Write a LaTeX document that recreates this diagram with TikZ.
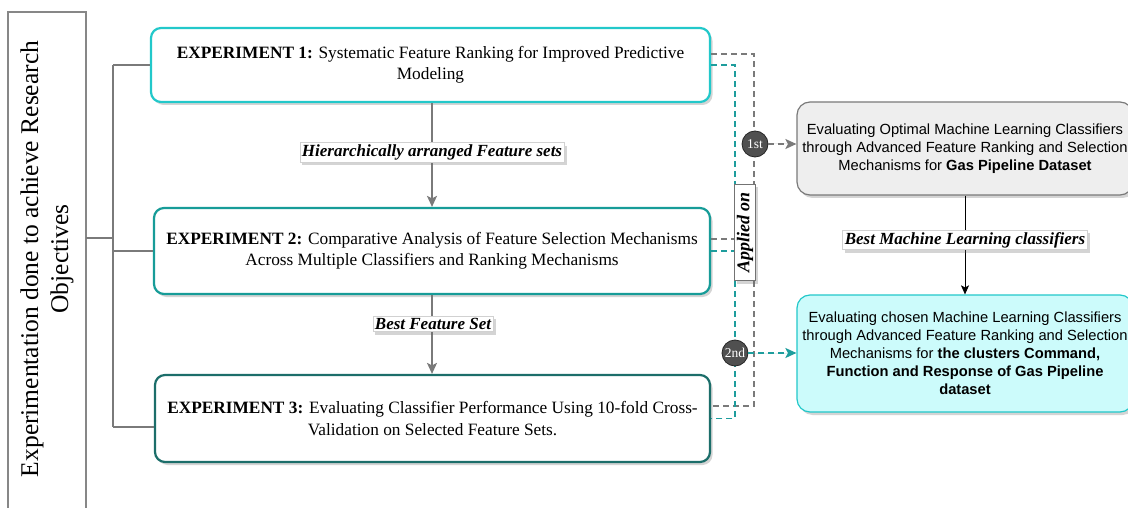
\documentclass[tikz,border=0pt]{standalone}
\usepackage{fontspec}
\setmainfont{Liberation Serif}
\newfontfamily\arialf{Liberation Sans}
\usetikzlibrary{shadows,arrows.meta,calc}
\definecolor{cyanA}{HTML}{22C8CA}
\definecolor{tealB}{HTML}{179C98}
\definecolor{tealC}{HTML}{1C6E6A}
\definecolor{dashTeal}{HTML}{1E9D9D}
\definecolor{lineGray}{HTML}{7A7A7A}
\definecolor{boxGray}{HTML}{EEEEEE}
\definecolor{boxCyan}{HTML}{CCFBFB}
\definecolor{circleFill}{HTML}{505050}
\tikzset{
  softshadow/.style={drop shadow={shadow xshift=2.5pt, shadow yshift=-3pt, opacity=0.28, fill=black!60}},
  expbox/.style={draw, line width=2.2pt, rounded corners=10pt, fill=white, softshadow,
    align=center, font=\fontsize{17.3}{21.5}\selectfont, inner sep=0pt},
  rbox/.style={rounded corners=13pt, line width=1.2pt, align=center,
    font=\arialf\fontsize{14.7}{18}\selectfont, inner sep=0pt, softshadow},
  lbl/.style={draw=black!18, line width=0.8pt, fill=white, text=black,
    font=\bfseries\itshape\fontsize{17}{19}\selectfont, inner sep=2pt, softshadow},
  ord/.style={circle, draw=black!85, line width=0.8pt, fill=circleFill, text=white,
    minimum size=26pt, inner sep=0pt, font=\fontsize{13.5}{13.5}\selectfont},
  gdash/.style={draw=lineGray, line width=1.5pt, dash pattern=on 6pt off 4pt},
  tdash/.style={draw=dashTeal, line width=1.5pt, dash pattern=on 6pt off 4pt},
  bracket/.style={draw=lineGray, line width=1.5pt},
  garrow/.style={draw=lineGray, line width=1.5pt, -{Stealth[length=11pt, width=10pt, inset=2.5pt]}},
}
\begin{document}
\begin{tikzpicture}[x=1pt, y=-1pt]
\useasboundingbox[fill=white] (0,0) rectangle (1128,508);

% goal box
\draw[draw=lineGray!90, line width=1.5pt, fill=white] (8,12) rectangle (86,530);
\node[rotate=90, align=center, font=\fontsize{25.5}{30}\selectfont] (goal) at (47,259)
  {Experimentation done to achieve Research\\Objectives};
\coordinate (goalR) at (86,238);

% experiment boxes
\node[expbox, draw=cyanA, minimum width=559pt, minimum height=74pt] (exp1) at (430.5,65)
  {\textbf{EXPERIMENT 1:} Systematic Feature Ranking for Improved Predictive\\Modeling};
\node[expbox, draw=tealB, minimum width=556pt, minimum height=86pt] (exp2) at (432,251)
  {\textbf{EXPERIMENT 2:} Comparative Analysis of Feature Selection Mechanisms\\Across Multiple Classifiers and Ranking Mechanisms};
\node[expbox, draw=tealC, minimum width=555pt, minimum height=87pt] (exp3) at (432.5,418.5)
  {\textbf{EXPERIMENT 3:} Evaluating Classifier Performance Using 10-fold Cross-\\Validation on Selected Feature Sets.};

% bracket
\coordinate (bmid) at (113,238);
\coordinate (btop) at (113,65);
\coordinate (bbot) at (113,427);
\draw[bracket] (goalR) -- (bmid);
\draw[bracket] (btop) -- (bbot);
\draw[bracket] (btop) -- (exp1.west);
\draw[bracket] (exp2.west -| bmid) -- (exp2.west);
\draw[bracket] (bbot) -- (bbot -| exp3.west);

% vertical arrows between experiments
\draw[garrow] (exp2.north |- exp1.south) -- (exp2.north);
\node[lbl] (l1) at (432,152.5) {Hierarchically arranged Feature sets};
\draw[garrow] (exp2.south) -- (exp2.south |- exp3.north);
\node[lbl] (l2) at (433,324) {Best Feature Set};

% right boxes
\node[rbox, draw=lineGray, fill=boxGray, minimum width=336pt, minimum height=93pt] (rb1) at (965,148.5)
  {Evaluating Optimal Machine Learning Classifiers\\through Advanced Feature Ranking and Selection\\Mechanisms for \textbf{Gas Pipeline Dataset}};
\node[rbox, draw=cyanA, fill=boxCyan, minimum width=336pt, minimum height=117pt] (rb2) at (965,353.5)
  {Evaluating chosen Machine Learning Classifiers\\through Advanced Feature Ranking and Selection\\Mechanisms for \textbf{the clusters Command,}\\\textbf{Function and Response of Gas Pipeline}\\\textbf{dataset}};
\draw[line width=1pt, -{Stealth[length=9pt, width=8pt, inset=2pt]}] (rb1.south) -- (rb2.north);
\node[lbl] (l3) at (965,240) {Best Machine Learning classifiers};

% dashed buses
\coordinate (g1) at (754,54);
\coordinate (g2) at (754,239);
\coordinate (g3) at (754,406);
\coordinate (t1) at (735,65);
\coordinate (t2) at (735,251);
\coordinate (t3) at (735,418.5);
\draw[gdash] (exp1.east |- g1) -- (g1) -- (g3) -- (exp3.east |- g3);
\draw[gdash] (exp2.east |- g2) -- (g2);
\draw[tdash] (exp1.east) -- (t1) -- (t3) -- (exp3.east);
\draw[tdash] (exp2.east) -- (t2);

% order markers
\node[ord] (c1) at (755,144) {1st};
\node[ord] (c2) at (735,353) {2nd};
\draw[gdash, -{Stealth[length=11pt, width=10pt, inset=2.5pt]}, fill=lineGray] (c1.east) -- (c1.east -| rb1.west);
\draw[tdash, -{Stealth[length=11pt, width=10pt, inset=2.5pt]}, fill=dashTeal] (c2.east) -- (c2.east -| rb2.west);

% applied on label
\node[lbl, draw=black!55, rotate=90, font=\bfseries\itshape\fontsize{18}{20}\selectfont,
  inner xsep=8pt, inner ysep=2.5pt] (ap) at (745,232.5) {Applied on};
\end{tikzpicture}
\end{document}
